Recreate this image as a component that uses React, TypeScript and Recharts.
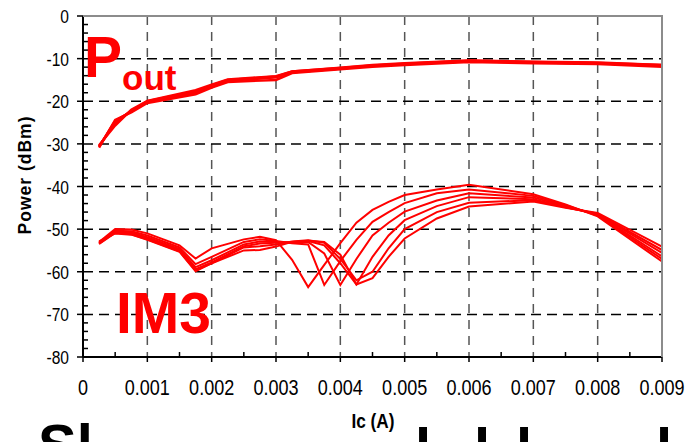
import { LineChart, Line, XAxis, YAxis, CartesianGrid } from "recharts";

// Output power vs collector current (several bias settings, all drawn in red)
const icPout = [0.00025, 0.0005, 0.00075, 0.001, 0.00175, 0.002, 0.00225, 0.003, 0.00325, 0.004, 0.0045, 0.005, 0.006, 0.007, 0.008, 0.009];
const pout1 = [-30.6, -24.8, -22.3, -20.1, -17.9, -16.4, -15.1, -14.3, -13.2, -12.3, -11.7, -11.3, -10.6, -10.9, -11.1, -11.7];
const pout2 = [-30.3, -25.7, -22.0, -19.9, -17.4, -16.1, -14.9, -14.1, -13.0, -12.1, -11.5, -11.1, -10.4, -10.7, -10.9, -11.5];
const pout3 = [-30.9, -24.4, -22.6, -20.4, -18.4, -16.8, -15.5, -15.0, -13.4, -12.5, -11.9, -11.5, -10.8, -11.1, -11.3, -11.9];
const pout4 = [-30.5, -25.2, -22.2, -20.2, -18.1, -16.5, -15.2, -14.4, -13.2, -12.3, -11.7, -11.3, -10.6, -10.9, -11.1, -11.7];
const pout5 = [-30.7, -24.6, -22.4, -20.0, -17.7, -16.3, -15.0, -14.2, -13.0, -12.2, -11.6, -11.2, -10.5, -10.8, -11.0, -11.5];

// Third-order intermod products vs collector current
const icIm3 = [0.00025, 0.0005, 0.00075, 0.001, 0.0015, 0.00175, 0.002, 0.0025, 0.00275, 0.003, 0.00325, 0.0035, 0.00375, 0.004, 0.00425, 0.0045, 0.00475, 0.005, 0.0055, 0.006, 0.007, 0.0075, 0.008, 0.009];
const im3A = [-53.0, -50.0, -50.1, -51.0, -53.8, -56.9, -54.5, -52.4, -51.8, -52.6, -57.2, -63.6, -58.4, -53.3, -48.5, -45.5, -43.6, -42.0, -40.7, -39.6, -41.8, -44.2, -47.0, -57.6];
const im3B = [-53.2, -50.4, -50.5, -51.5, -54.3, -58.2, -56.5, -53.0, -52.4, -52.8, -53.3, -53.6, -63.1, -57.5, -52.5, -48.3, -46.0, -43.9, -41.6, -40.7, -42.2, -44.4, -46.8, -57.0];
const im3C = [-53.3, -50.6, -50.8, -51.9, -54.7, -58.9, -57.3, -53.6, -52.9, -53.0, -53.2, -53.0, -55.7, -63.1, -57.0, -51.5, -48.5, -45.9, -43.3, -41.6, -42.6, -44.6, -46.6, -56.4];
const im3D = [-53.4, -50.8, -51.0, -52.2, -55.0, -59.4, -57.8, -54.0, -53.4, -53.2, -53.0, -52.8, -53.8, -58.0, -63.0, -56.5, -51.5, -47.9, -44.6, -42.5, -43.0, -44.8, -46.5, -55.6];
const im3E = [-53.5, -50.9, -51.2, -52.4, -55.2, -59.7, -58.0, -54.3, -54.0, -53.6, -52.9, -52.6, -53.2, -57.0, -62.0, -60.0, -54.5, -50.0, -46.0, -43.8, -43.2, -44.9, -46.4, -54.9];
const im3F = [-52.9, -51.0, -51.3, -52.5, -55.3, -59.9, -58.0, -55.0, -54.9, -54.1, -53.0, -52.7, -53.0, -56.0, -63.0, -61.5, -56.5, -52.2, -47.5, -44.7, -43.5, -45.0, -46.2, -54.1];

const xTicks = [0, 0.0005, 0.001, 0.0015, 0.002, 0.0025, 0.003, 0.0035, 0.004, 0.0045, 0.005, 0.0055, 0.006, 0.0065, 0.007, 0.0075, 0.008, 0.0085, 0.009];
const yTicks = [0, -2, -4, -6, -8, -10, -12, -14, -16, -18, -20, -22, -24, -26, -28, -30, -32, -34, -36, -38, -40, -42, -44, -46, -48, -50, -52, -54, -56, -58, -60, -62, -64, -66, -68, -70, -72, -74, -76, -78, -80];
const xGrid = [0.001, 0.002, 0.003, 0.004, 0.005, 0.006, 0.007, 0.008];
const yGrid = [-10, -20, -30, -40, -50, -60, -70];

const poutSeries = [pout1, pout2, pout3, pout4, pout5];
const im3Series = [im3A, im3B, im3C, im3D, im3E, im3F];

const RED = "#ff0000";
const FONT = "'Liberation Sans', Arial, sans-serif";
// no narrow face installed, so tick text is squeezed horizontally instead
const SQUEEZE = 0.82;

const toPoints = (xs: number[], ys: number[]) => xs.map((x, i) => ({ x, y: ys[i] }));

function XTick({ x, y, payload }: any) {
  const v: number = payload.value;
  const major = Math.round(v * 2000) % 2 === 0;
  if (!major) {
    return <line x1={x} x2={x} y1={y} y2={y - 5} stroke="#000" strokeWidth={1.5} />;
  }
  return (
    <g>
      <line x1={x} x2={x} y1={y} y2={y + 5} stroke="#000" strokeWidth={1.5} />
      <text
        transform={`translate(${x},${y + 38}) scale(${SQUEEZE},1)`}
        textAnchor="middle"
        fontSize={22}
        fontFamily={FONT}
        fill="#000"
      >
        {v === 0 ? "0" : v.toFixed(3)}
      </text>
    </g>
  );
}

function YTick({ x, y, payload }: any) {
  const v: number = payload.value;
  if (v % 10 !== 0) {
    return <line x1={x} x2={x + 5} y1={y} y2={y} stroke="#000" strokeWidth={1.5} />;
  }
  return (
    <g>
      <line x1={x - 6} x2={x} y1={y} y2={y} stroke="#000" strokeWidth={1.5} />
      <text
        transform={`translate(${x - 14},${y + 7}) scale(${SQUEEZE},1)`}
        textAnchor="end"
        fontSize={19}
        fontFamily={FONT}
        fill="#000"
      >
        {v}
      </text>
    </g>
  );
}

export default function App() {
  return (
    <div style={{ position: "absolute", left: 0, top: 0, width: 688, height: 442, background: "#fff", overflow: "hidden" }}>
      <LineChart width={688} height={442} margin={{ top: 16, right: 26, left: 0, bottom: 0 }}>
        <CartesianGrid horizontal={false} verticalValues={xGrid} stroke="#555" strokeWidth={1.5} strokeDasharray="9 7" />
        <CartesianGrid vertical={false} horizontalValues={yGrid} stroke="#000" strokeWidth={1.5} strokeDasharray="10 6" />
        <XAxis
          dataKey="x"
          type="number"
          domain={[0, 0.009]}
          ticks={xTicks}
          interval={0}
          tick={<XTick />}
          tickLine={false}
          tickSize={0}
          tickMargin={0}
          height={85}
          axisLine={{ stroke: "#000", strokeWidth: 2 }}
          allowDataOverflow
        />
        <YAxis
          type="number"
          domain={[-80, 0]}
          ticks={yTicks}
          interval={0}
          tick={<YTick />}
          tickLine={false}
          tickSize={0}
          tickMargin={0}
          width={83}
          axisLine={{ stroke: "#000", strokeWidth: 2 }}
          allowDataOverflow
        />
        {poutSeries.map((ys, i) => (
          <Line
            key={`pout${i}`}
            data={toPoints(icPout, ys)}
            dataKey="y"
            type="linear"
            stroke={RED}
            strokeWidth={2.4}
            dot={false}
            isAnimationActive={false}
          />
        ))}
        {im3Series.map((ys, i) => (
          <Line
            key={`im3${i}`}
            data={toPoints(icIm3, ys)}
            dataKey="y"
            type="linear"
            stroke={RED}
            strokeWidth={2}
            dot={false}
            isAnimationActive={false}
          />
        ))}
      </LineChart>
      <svg width={688} height={442} style={{ position: "absolute", left: 0, top: 0, pointerEvents: "none" }} fontFamily={FONT}>
        {/* plot frame, top and right */}
        <line x1={83} x2={663} y1={16} y2={16} stroke="#8c8c8c" strokeWidth={2} />
        <line x1={662} x2={662} y1={16} y2={357} stroke="#8c8c8c" strokeWidth={2} />
        <text x={84} y={77} fontSize={57} fontWeight="bold" fill={RED}>P</text>
        <text x={122} y={90} fontSize={35} fontWeight="bold" fill={RED}>out</text>
        <text x={116} y={333} fontSize={57} fontWeight="bold" fill={RED}>IM3</text>
        <text
          transform="translate(31,175) rotate(-90)"
          textAnchor="middle"
          fontSize={17.5}
          fontWeight="bold"
          letterSpacing={1}
          fill="#000"
        >
          Power (dBm)
        </text>
        <text
          transform={`translate(373,428) scale(${SQUEEZE},1)`}
          textAnchor="middle"
          fontSize={21}
          fontWeight="bold"
          fill="#000"
        >
          Ic (A)
        </text>
        {/* slide heading running off the bottom edge */}
        <g fontSize={58} fontWeight="bold" fill="#000">
          <text x={38} y={465}>Sl</text>
          <text x={415} y={469}>l</text>
          <text x={474} y={469}>l</text>
          <text x={516} y={469}>l</text>
          <text x={656} y={469}>l</text>
        </g>
      </svg>
    </div>
  );
}
